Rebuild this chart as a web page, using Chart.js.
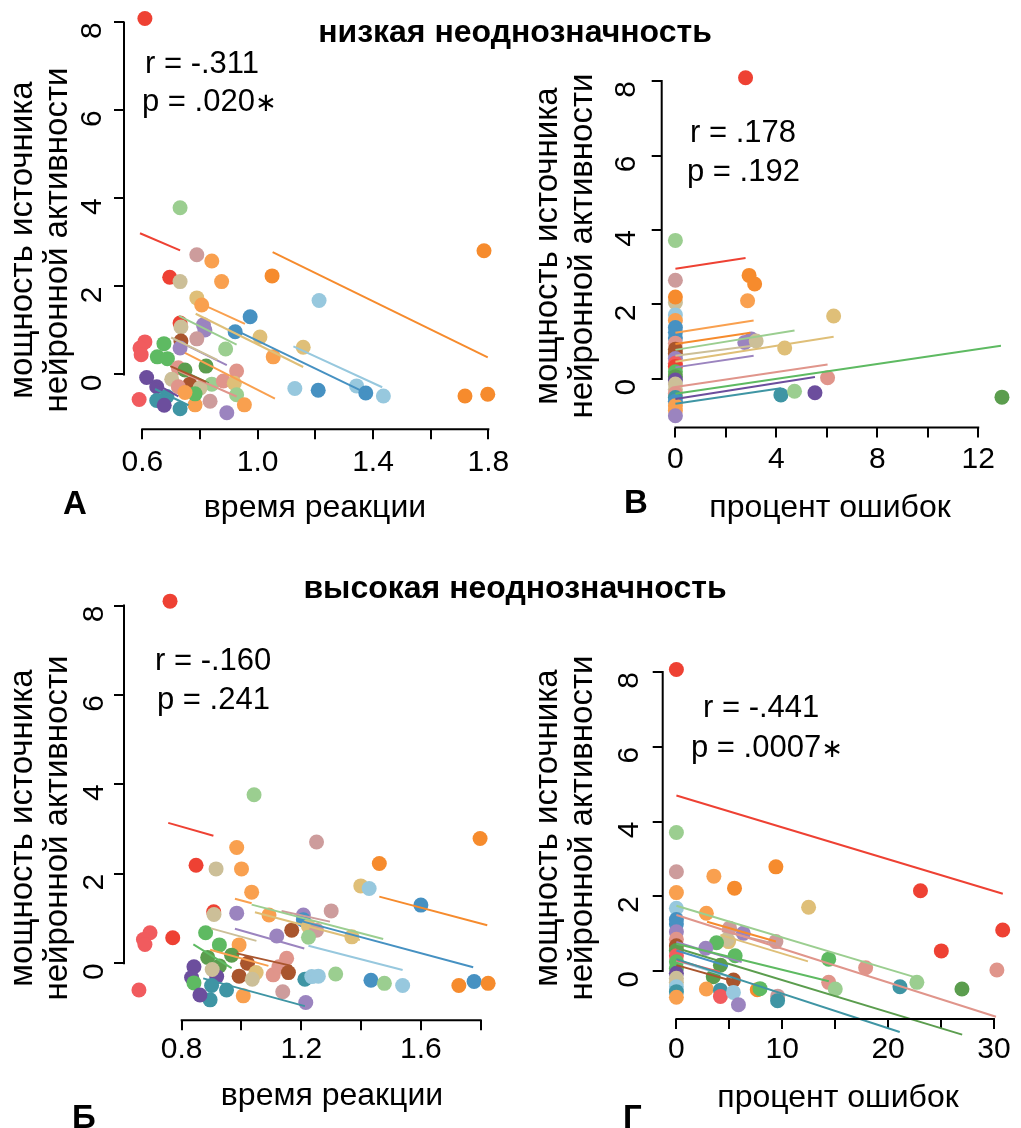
<!DOCTYPE html>
<html>
<head>
<meta charset="utf-8">
<script src="https://cdn.jsdelivr.net/npm/chart.js@4"></script>
<style>
body { margin: 0; background: #fff; }
#wrap { position: relative; width: 1021px; height: 1128px; overflow: hidden; font-family: "Liberation Sans", Arial, sans-serif; color: #000; }
canvas { position: absolute; left: 0; top: 0; }
.t { position: absolute; white-space: nowrap; line-height: 1; }
.hd { font-size: 32px; font-weight: bold; transform: translateX(-50%); }
.lt { font-size: 33px; font-weight: bold; }
.rp { font-size: 31px; }
.xt { font-size: 32px; transform: translateX(-50%); }
.yt { font-size: 33px; transform: translate(-50%, -50%) rotate(-90deg); }
.st { font-family: "DejaVu Sans", sans-serif; font-size: 26px; }
</style>
</head>
<body>
<div id="wrap">
  <canvas id="cA" width="1021" height="1128"></canvas>
  <canvas id="cB" width="1021" height="1128"></canvas>
  <canvas id="cC" width="1021" height="1128"></canvas>
  <canvas id="cD" width="1021" height="1128"></canvas>

  <div class="t hd" style="left:515px;top:15px">низкая неоднозначность</div>
  <div class="t hd" style="left:515px;top:571px">высокая неоднозначность</div>

  <div class="t lt" style="left:63px;top:486px">А</div>
  <div class="t lt" style="left:624px;top:485px">В</div>
  <div class="t lt" style="left:72px;top:1100px">Б</div>
  <div class="t lt" style="left:623px;top:1100px">Г</div>

  <div class="t rp" style="left:145px;top:47px">r = -.311</div>
  <div class="t rp" style="left:142px;top:85px">p = .020<span class="st">∗</span></div>
  <div class="t rp" style="left:690px;top:116px">r = .178</div>
  <div class="t rp" style="left:687px;top:155px">p = .192</div>
  <div class="t rp" style="left:155px;top:644px">r = -.160</div>
  <div class="t rp" style="left:157px;top:683px">p = .241</div>
  <div class="t rp" style="left:703px;top:691px">r = -.441</div>
  <div class="t rp" style="left:691px;top:731px">p = .0007<span class="st">∗</span></div>

  <div class="t xt" style="left:315px;top:490px">время реакции</div>
  <div class="t xt" style="left:830px;top:490px">процент ошибок</div>
  <div class="t xt" style="left:332px;top:1078px">время реакции</div>
  <div class="t xt" style="left:838px;top:1080px">процент ошибок</div>

  <div class="t yt" style="left:20px;top:240px">мощность источника</div>
  <div class="t yt" style="left:55px;top:240px">нейронной активности</div>
  <div class="t yt" style="left:545px;top:246px">мощность источника</div>
  <div class="t yt" style="left:580px;top:246px">нейронной активности</div>
  <div class="t yt" style="left:20px;top:828px">мощность источника</div>
  <div class="t yt" style="left:55px;top:828px">нейронной активности</div>
  <div class="t yt" style="left:545px;top:828px">мощность источника</div>
  <div class="t yt" style="left:580px;top:828px">нейронной активности</div>
</div>
<script>
// цвета испытуемых
const palette = {
  rd: '#EE4133', co: '#F15B5E', od: '#F68B2D', lo: '#F9A04F', lg: '#9BCE90',
  gr: '#5EBA62', dg: '#5B9D4E', pu: '#6C4E9D', la: '#9B84BF', bl: '#4691C2',
  lb: '#97C8DE', te: '#3F95A4', br: '#A9552D', ta: '#CCBF98', go: '#DFBF78',
  ro: '#CD9C9C', sa: '#E0958B'
};

const yTicks = [0, 2, 4, 6, 8];

// --- А: низкая неоднозначность, время реакции ---
const aXTicks = [0.6, 0.8, 1.0, 1.2, 1.4, 1.6, 1.8];
const aXLabels = ['0.6', '', '1.0', '', '1.4', '', '1.8'];
const aPtX = [0.609, 0.731, 0.789, 0.841, 0.695, 0.731, 0.875, 1.05, 1.785, 1.213, 0.789, 0.806, 0.974, 0.922, 1.008, 0.812,
  0.817, 0.731, 0.734, 0.789, 0.734, 0.731, 0.889, 1.158, 1.054, 0.675, 0.652, 0.687, 0.609, 0.592, 0.596, 0.821,
  0.927, 0.725, 0.748, 0.615, 0.702, 0.765, 0.725, 0.841, 0.8, 0.881, 0.919, 0.927, 0.65, 0.65, 0.685, 0.676,
  0.731, 0.783, 0.835, 0.954, 0.893, 0.589, 0.783, 0.748, 1.129, 1.21, 1.343, 1.375, 1.436, 1.719, 1.798];
const aPtY = [8.09, 3.79, 2.72, 2.58, 2.21, 2.11, 2.11, 2.24, 2.81, 1.68, 1.74, 1.58, 1.31, 0.97, 0.85, 1.13,
  1.01, 1.17, 1.08, 0.81, 0.76, 0.6, 0.58, 0.62, 0.4, 0.7, 0.4, 0.36, 0.74, 0.6, 0.45, 0.19,
  0.08, 0.15, 0.1, -0.07, -0.11, -0.22, -0.28, -0.22, -0.31, -0.15, -0.2, -0.46, -0.28, -0.59, -0.5, -0.7,
  -0.78, -0.69, -0.61, -0.69, -0.87, -0.57, -0.44, -0.41, -0.32, -0.36, -0.26, -0.42, -0.49, -0.49, -0.45];
const aPtC = ['rd', 'lg', 'ro', 'lo', 'rd', 'ta', 'lo', 'od', 'od', 'lb', 'go', 'lo', 'bl', 'bl', 'go', 'la',
  'la', 'rd', 'ta', 'ro', 'br', 'la', 'lg', 'go', 'lo', 'gr', 'gr', 'gr', 'co', 'co', 'co', 'dg',
  'sa', 'sa', 'dg', 'pu', 'ta', 'br', 'sa', 'lg', 'ta', 'sa', 'go', 'lg', 'pu', 'te', 'te', 'pu',
  'te', 'lo', 'ro', 'lo', 'la', 'co', 'gr', 'lo', 'lb', 'bl', 'lb', 'bl', 'lb', 'od', 'od'];
const aLnX0 = [0.592, 1.052, 0.806, 0.785, 0.727, 0.916, 1.124, 0.70, 0.713, 0.748, 0.697, 0.725, 0.735, 0.627, 0.644];
const aLnX1 = [0.731, 1.798, 0.956, 1.158, 0.927, 1.375, 1.432, 0.86, 0.893, 1.06, 0.821, 0.927, 0.83, 0.725, 0.76];
const aLnY0 = [3.21, 2.78, 1.6, 1.38, 1.33, 1.03, 0.64, 0.84, 0.79, 0.49, 0.19, 0.08, 0.1, -0.14, -0.33];
const aLnY1 = [2.82, 0.39, 1.15, 0.17, 0.68, -0.42, -0.29, 0.33, 0.21, -0.55, -0.17, -0.5, -0.2, -0.5, -0.7];
const aLnC = ['rd', 'od', 'lo', 'go', 'lg', 'bl', 'lb', 'ta', 'la', 'lo', 'br', 'sa', 'dg', 'pu', 'te'];

// --- В: низкая неоднозначность, процент ошибок ---
const bXTicks = [0, 2, 4, 6, 8, 10, 12];
const bXLabels = ['0', '', '4', '', '8', '', '12'];
const bPtX = [0, 0, 0, 0, 0, 0, 0, 0, 0, 0, 0, 0, 0, 0, 0, 0, 0, 0, 0, 0, 0, 0, 0, 0, 0, 0,
  2.78, 2.92, 3.14, 2.86, 6.27, 3.01, 2.75, 3.2, 4.33, 6.03, 4.18, 4.72, 5.53, 12.94];
const bPtY = [3.72, 2.65, 2.05, 2.2, 1.72, 1.57, 1.38, 1.25, 1.1, 0.96, 0.8, 0.68, 0.55, 0.42, 0.33, 0.19, 0.06,
  -0.03, -0.14, -0.28, -0.39, -0.5, -0.6, -0.72, -0.85, -0.99,
  8.09, 2.78, 2.55, 2.1, 1.69, 1.07, 0.98, 1.02, 0.83, 0.03, -0.43, -0.33, -0.37, -0.49];
const bPtC = ['lg', 'ro', 'ta', 'od', 'lb', 'lo', 'bl', 'bl', 'bl', 'sa', 'br', 'br', 'la', 'co', 'rd', 'gr', 'dg',
  'pu', 'ta', 'ta', 'sa', 'te', 'bl', 'lo', 'lo', 'la',
  'rd', 'od', 'od', 'lo', 'go', 'la', 'la', 'ta', 'go', 'sa', 'te', 'lg', 'pu', 'dg'];
const bLnX0 = [0, 0, 0, 0, 0, 0, 0, 0, 0, 0, 0];
const bLnX1 = [2.78, 3.1, 2.97, 4.72, 3.14, 6.27, 3.1, 6.03, 12.9, 5.53, 4.18];
const bLnY0 = [2.96, 1.24, 0.94, 0.78, 0.62, 0.46, 0.31, -0.22, -0.4, -0.54, -0.67];
const bLnY1 = [3.25, 1.57, 1.24, 1.3, 0.9, 1.13, 0.62, 0.39, 0.89, 0.05, -0.25];
const bLnC = ['rd', 'lo', 'od', 'lg', 'ta', 'go', 'la', 'sa', 'gr', 'pu', 'te'];

// --- Б: высокая неоднозначность, время реакции ---
const cXTicks = [0.8, 1.0, 1.2, 1.4, 1.6, 1.8];
const cXLabels = ['0.8', '', '1.2', '', '1.6', ''];
const cPtX = [0.761, 1.042, 1.251, 1.798, 0.984, 1.461, 0.848, 0.915, 1.0, 1.399, 1.427, 1.034, 1.6, 1.3, 0.907, 0.908,
  0.984, 1.092, 1.207, 1.207, 1.224, 1.251, 1.369, 1.224, 1.168, 1.118, 0.88, 0.926, 0.992, 0.77, 0.694, 0.672,
  0.677, 0.657, 0.887, 0.926, 0.967, 0.841, 0.833, 0.917, 0.902, 1.02, 0.992, 1.049, 1.036, 1.106, 1.125, 1.151,
  1.157, 0.841, 0.9, 0.95, 0.895, 0.861, 1.006, 1.138, 1.215, 1.212, 1.235, 1.257, 1.315, 1.433, 1.478, 1.539,
  1.727, 1.778, 1.825];
const cPtY = [8.1, 3.77, 2.71, 2.79, 2.59, 2.23, 2.19, 2.11, 2.11, 1.73, 1.67, 1.59, 1.3, 1.17, 1.15, 1.09,
  1.12, 1.08, 1.08, 0.97, 0.82, 0.74, 0.59, 0.58, 0.74, 0.61, 0.68, 0.41, 0.41, 0.57, 0.68, 0.53,
  0.42, -0.6, 0.13, -0.06, 0.18, -0.08, -0.32, -0.3, -0.14, 0.0, -0.29, -0.21, -0.36, -0.26, -0.08, 0.11,
  -0.21, -0.44, -0.5, -0.6, -0.82, -0.71, -0.73, -0.64, -0.88, -0.36, -0.3, -0.29, -0.24, -0.38, -0.45, -0.5,
  -0.5, -0.41, -0.45];
const cPtC = ['rd', 'lg', 'ro', 'od', 'lo', 'od', 'rd', 'ta', 'lo', 'go', 'lb', 'lo', 'bl', 'ro', 'rd', 'ta',
  'la', 'lo', 'la', 'bl', 'go', 'ro', 'go', 'lg', 'br', 'la', 'gr', 'gr', 'lo', 'rd', 'co', 'co',
  'co', 'co', 'dg', 'dg', 'dg', 'pu', 'pu', 'pu', 'ta', 'br', 'br', 'go', 'ta', 'sa', 'sa', 'sa',
  'br', 'gr', 'te', 'te', 'te', 'pu', 'lo', 'ro', 'la', 'te', 'lb', 'lb', 'lg', 'bl', 'lg', 'lb',
  'od', 'bl', 'od'];
const cLnX0 = [0.755, 1.461, 0.978, 1.034, 1.134, 1.185, 1.045, 0.898, 0.978, 1.224, 0.839, 0.895, 0.984, 0.872];
const cLnX1 = [0.906, 1.822, 1.034, 1.474, 1.296, 1.775, 1.396, 1.05, 1.21, 1.539, 0.967, 1.09, 1.168, 1.212];
const cLnY0 = [3.14, 1.49, 1.44, 1.31, 1.17, 0.97, 1.14, 0.78, 0.77, 0.39, 0.42, 0.3, 0.22, -0.34];
const cLnY1 = [2.85, 0.85, 1.34, 0.54, 0.93, -0.09, 0.52, 0.5, 0.33, -0.15, -0.11, -0.06, -0.06, -0.96];
const cLnC = ['rd', 'od', 'lo', 'lg', 'ro', 'bl', 'go', 'ta', 'la', 'lb', 'gr', 'lo', 'br', 'te'];

// --- Г: высокая неоднозначность, процент ошибок ---
const dXTicks = [0, 5, 10, 15, 20, 25, 30];
const dXLabels = ['0', '', '10', '', '20', '', '30'];
const dPtX = [0, 0, 0, 0, 0, 0, 0, 0, 0, 0, 0, 0, 0, 0, 0, 0, 0, 0, 0, 0,
  3.54, 5.49, 9.4, 2.83, 12.49, 5.02, 6.32, 4.93, 4.8, 3.79, 2.77, 5.55, 4.16, 3.48, 5.39, 2.83,
  4.16, 4.16, 5.39, 5.86, 7.64, 7.9, 9.4, 9.57, 9.56, 23.06, 25.03, 30.83, 30.28, 26.98, 22.72, 21.12,
  17.88, 14.39, 14.39, 15.01];
const dPtY = [8.07, 3.71, 2.66, 2.1, 1.68, 1.38, 1.26, 1.05, 0.85, 0.68, 0.55, 0.41, 0.25, 0.07, -0.06, -0.19,
  -0.3, -0.42, -0.55, -0.7,
  2.54, 2.22, 2.79, 1.55, 1.71, 1.15, 1.01, 0.79, 0.85, 0.76, 0.61, 0.41, 0.16, -0.15, -0.24, -0.48,
  -0.51, -0.68, -0.57, -0.9, -0.5, -0.47, 0.79, -0.67, -0.79, 2.15, 0.54, 1.1, 0.03, -0.48, -0.3, -0.42,
  0.09, 0.32, -0.3, -0.48];
const dPtC = ['rd', 'lg', 'ro', 'lo', 'lb', 'bl', 'bl', 'la', 'sa', 'br', 'dg', 'co', 'gr', 'gr', 'pu', 'ta',
  'ta', 'lb', 'te', 'lo',
  'lo', 'od', 'od', 'lo', 'go', 'ro', 'la', 'go', 'ta', 'gr', 'la', 'gr', 'dg', 'dg', 'br', 'lo',
  'te', 'co', 'lb', 'la', 'od', 'gr', 'ro', 'ro', 'te', 'rd', 'rd', 'rd', 'sa', 'dg', 'lg', 'te',
  'sa', 'gr', 'sa', 'lg'];
const dLnX0 = [0, 0, 0, 0, 0, 0, 2.9, 4.16, 4.3, 0, 0, 0, 0, 0];
const dLnX1 = [30.84, 22.76, 30.2, 14.4, 27.0, 21.1, 9.4, 12.43, 9.87, 6.17, 4.87, 4.1, 5.24, 5.4];
const dLnY0 = [4.7, 1.75, 1.5, 0.73, 0.62, 0.32, 1.32, 0.97, 1.07, 0.78, 0.55, 0.29, 0.28, 0.16];
const dLnY1 = [2.07, -0.18, -1.22, -0.27, -1.7, -1.63, 0.79, 0.26, 0.69, 0.24, 0.13, -0.02, -0.17, -0.27];
const dLnC = ['rd', 'lg', 'sa', 'gr', 'dg', 'te', 'od', 'go', 'ro', 'la', 'bl', 'co', 'lb', 'br'];

const FONT = '"Liberation Sans", Arial, sans-serif';

// ось как в R: линия только от первого до последнего деления
const axisLinePlugin = {
  id: 'axisLine',
  afterDraw(chart) {
    const { ctx, chartArea, scales: { x, y } } = chart;
    const xt = x.ticks, yt = y.ticks;
    ctx.save();
    ctx.strokeStyle = '#000';
    ctx.lineWidth = 2;
    ctx.lineCap = 'square';
    ctx.beginPath();
    ctx.moveTo(x.getPixelForValue(xt[0].value), chartArea.bottom);
    ctx.lineTo(x.getPixelForValue(xt[xt.length - 1].value), chartArea.bottom);
    ctx.moveTo(chartArea.left, y.getPixelForValue(yt[0].value));
    ctx.lineTo(chartArea.left, y.getPixelForValue(yt[yt.length - 1].value));
    ctx.stroke();
    ctx.restore();
  }
};

function buildPanel(id, d, box) {
  const datasets = [];
  for (let i = 0; i < d.lnC.length; i++) {
    datasets.push({
      data: [{ x: d.lnX0[i], y: d.lnY0[i] }, { x: d.lnX1[i], y: d.lnY1[i] }],
      showLine: true,
      borderColor: palette[d.lnC[i]],
      borderWidth: 2,
      pointRadius: 0,
      clip: false
    });
  }
  datasets.push({
    data: d.ptX.map((x, i) => ({ x: x, y: d.ptY[i] })),
    showLine: false,
    pointRadius: 7.5,
    pointBackgroundColor: d.ptC.map(c => palette[c]),
    pointBorderColor: d.ptC.map(c => palette[c]),
    pointBorderWidth: 0,
    clip: false
  });

  new Chart(document.getElementById(id), {
    type: 'scatter',
    data: { datasets: datasets },
    plugins: [axisLinePlugin],
    options: {
      responsive: false,
      animation: false,
      events: [],
      layout: {
        padding: { left: box.left - 60, right: 1021 - box.right, top: box.top, bottom: 1128 - box.bottom - 60 }
      },
      plugins: { legend: { display: false }, tooltip: { enabled: false } },
      scales: {
        x: {
          type: 'linear', position: 'bottom', bounds: 'data',
          min: box.xMin, max: box.xMax,
          afterBuildTicks: s => { s.ticks = d.xTicks.map(v => ({ value: v })); },
          afterFit: s => { s.height = 60; s.paddingLeft = 0; s.paddingRight = 0; },
          ticks: {
            autoSkip: false, maxRotation: 0, minRotation: 0, padding: box.xLabPad,
            color: '#000', font: { family: FONT, size: 30 },
            callback: (v, i) => d.xLabels[i]
          },
          grid: { drawOnChartArea: false, drawTicks: true, tickLength: 10, color: '#000', lineWidth: 2 },
          border: { display: false }
        },
        y: {
          type: 'linear', position: 'left', bounds: 'data',
          min: box.yMin, max: box.yMax,
          afterBuildTicks: s => { s.ticks = yTicks.map(v => ({ value: v })); },
          afterFit: s => { s.width = 60; s.paddingTop = 0; s.paddingBottom = 0; },
          ticks: {
            autoSkip: false, minRotation: 90, maxRotation: 90, crossAlign: 'center', padding: box.yLabPad,
            color: '#000', font: { family: FONT, size: 30 },
            callback: v => String(v) + '\u00a0\u00a0'
          },
          grid: { drawOnChartArea: false, drawTicks: true, tickLength: 10, color: '#000', lineWidth: 2 },
          border: { display: false }
        }
      }
    }
  });
}

buildPanel('cA',
  { ptX: aPtX, ptY: aPtY, ptC: aPtC, lnX0: aLnX0, lnX1: aLnX1, lnY0: aLnY0, lnY1: aLnY1, lnC: aLnC, xTicks: aXTicks, xLabels: aXLabels },
  { left: 124, right: 501.6, top: 0, bottom: 429.3, xMin: 0.5365, xMax: 1.846, yMin: -1.246, yMax: 8.339, yLabPad: 5, xLabPad: 5 });
buildPanel('cB',
  { ptX: bPtX, ptY: bPtY, ptC: bPtC, lnX0: bLnX0, lnX1: bLnX1, lnY0: bLnY0, lnY1: bLnY1, lnC: bLnC, xTicks: bXTicks, xLabels: bXLabels },
  { left: 661.7, right: 1021, top: 64.6, bottom: 427.6, xMin: -0.543, xMax: 13.397, yMin: -1.308, yMax: 8.443, yLabPad: 8, xLabPad: 4 });
buildPanel('cC',
  { ptX: cPtX, ptY: cPtY, ptC: cPtC, lnX0: cLnX0, lnX1: cLnX1, lnY0: cLnY0, lnY1: cLnY1, lnC: cLnC, xTicks: cXTicks, xLabels: cXLabels },
  { left: 124, right: 501.6, top: 585, bottom: 1020.2, xMin: 0.607, xMax: 1.87, yMin: -1.275, yMax: 8.461, yLabPad: 3, xLabPad: 2 });
buildPanel('cD',
  { ptX: dPtX, ptY: dPtY, ptC: dPtC, lnX0: dLnX0, lnX1: dLnX1, lnY0: dLnY0, lnY1: dLnY1, lnC: dLnC, xTicks: dXTicks, xLabels: dXLabels },
  { left: 662.7, right: 1021, top: 656, bottom: 1019.1, xMin: -1.295, xMax: 31.85, yMin: -1.284, yMax: 8.431, yLabPad: 6, xLabPad: 3 });
</script>
</body>
</html>
